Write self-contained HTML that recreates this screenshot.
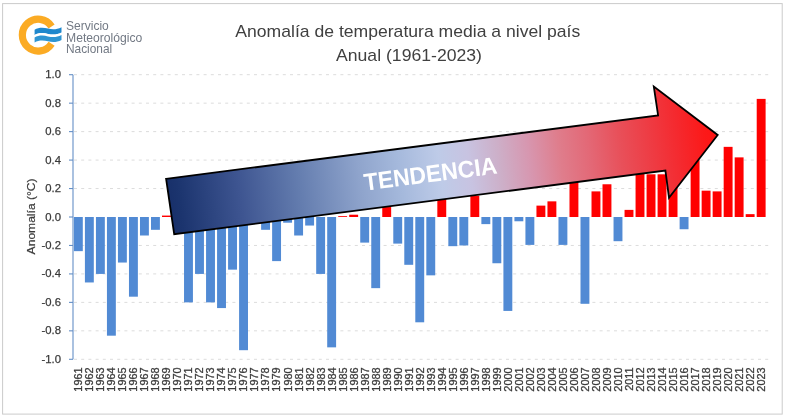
<!DOCTYPE html>
<html lang="es">
<head>
<meta charset="utf-8">
<title>Anomalía de temperatura media a nivel país</title>
<style>
html,body{margin:0;padding:0;background:#fff;}
body{width:785px;height:419px;overflow:hidden;font-family:'Liberation Sans', sans-serif;}
svg{display:block;filter:blur(0.45px);}
text{font-family:'Liberation Sans', sans-serif;}
</style>
</head>
<body>
<svg width="785" height="419" viewBox="0 0 785 419">
<defs>
<linearGradient id="ag" gradientUnits="userSpaceOnUse" x1="170" y1="206" x2="718" y2="135">
<stop offset="0.000" stop-color="#18306a"/>
<stop offset="0.018" stop-color="#1b346e"/>
<stop offset="0.128" stop-color="#3e5591"/>
<stop offset="0.237" stop-color="#647daf"/>
<stop offset="0.347" stop-color="#8fa4cc"/>
<stop offset="0.420" stop-color="#a5b9dc"/>
<stop offset="0.493" stop-color="#becbe8"/>
<stop offset="0.547" stop-color="#c8c3e1"/>
<stop offset="0.602" stop-color="#cdafc8"/>
<stop offset="0.657" stop-color="#d796af"/>
<stop offset="0.712" stop-color="#df7d8c"/>
<stop offset="0.766" stop-color="#e36876"/>
<stop offset="0.821" stop-color="#e8505a"/>
<stop offset="0.876" stop-color="#ee3c44"/>
<stop offset="0.931" stop-color="#f5282d"/>
<stop offset="0.976" stop-color="#fc1919"/>
<stop offset="1.000" stop-color="#ff1414"/>
</linearGradient>
</defs>
<rect x="0" y="0" width="785" height="419" fill="#ffffff"/>
<rect x="2.6" y="3.6" width="779.6" height="410.5" fill="#ffffff" stroke="#cbcbcb" stroke-width="1"/>

<g stroke="#dcdcdc" stroke-width="1" stroke-dasharray="3 4.2" fill="none">
<line x1="74.0" y1="359.30" x2="768.8" y2="359.30"/>
<line x1="74.0" y1="330.84" x2="768.8" y2="330.84"/>
<line x1="74.0" y1="302.38" x2="768.8" y2="302.38"/>
<line x1="74.0" y1="273.92" x2="768.8" y2="273.92"/>
<line x1="74.0" y1="245.46" x2="768.8" y2="245.46"/>
<line x1="74.0" y1="188.54" x2="768.8" y2="188.54"/>
<line x1="74.0" y1="160.08" x2="768.8" y2="160.08"/>
<line x1="74.0" y1="131.62" x2="768.8" y2="131.62"/>
<line x1="74.0" y1="103.16" x2="768.8" y2="103.16"/>
<line x1="74.0" y1="74.70" x2="768.8" y2="74.70"/>
</g>
<g>
<rect x="73.90" y="217.00" width="8.90" height="34.15" fill="#518ad4"/>
<rect x="84.91" y="217.00" width="8.90" height="65.46" fill="#518ad4"/>
<rect x="95.93" y="217.00" width="8.90" height="56.92" fill="#518ad4"/>
<rect x="106.94" y="217.00" width="8.90" height="118.68" fill="#518ad4"/>
<rect x="117.95" y="217.00" width="8.90" height="45.54" fill="#518ad4"/>
<rect x="128.97" y="217.00" width="8.90" height="79.69" fill="#518ad4"/>
<rect x="139.98" y="217.00" width="8.90" height="18.50" fill="#518ad4"/>
<rect x="150.99" y="217.00" width="8.90" height="12.81" fill="#518ad4"/>
<rect x="162.00" y="215.58" width="8.90" height="1.42" fill="#ff0000"/>
<rect x="173.02" y="209.88" width="8.90" height="7.12" fill="#ff0000"/>
<rect x="184.03" y="217.00" width="8.90" height="85.38" fill="#518ad4"/>
<rect x="195.04" y="217.00" width="8.90" height="56.92" fill="#518ad4"/>
<rect x="206.06" y="217.00" width="8.90" height="85.38" fill="#518ad4"/>
<rect x="217.07" y="217.00" width="8.90" height="91.07" fill="#518ad4"/>
<rect x="228.08" y="217.00" width="8.90" height="52.65" fill="#518ad4"/>
<rect x="239.09" y="217.00" width="8.90" height="133.19" fill="#518ad4"/>
<rect x="250.11" y="209.88" width="8.90" height="7.12" fill="#ff0000"/>
<rect x="261.12" y="217.00" width="8.90" height="12.81" fill="#518ad4"/>
<rect x="272.13" y="217.00" width="8.90" height="44.11" fill="#518ad4"/>
<rect x="283.15" y="217.00" width="8.90" height="5.69" fill="#518ad4"/>
<rect x="294.16" y="217.00" width="8.90" height="18.50" fill="#518ad4"/>
<rect x="305.17" y="217.00" width="8.90" height="8.54" fill="#518ad4"/>
<rect x="316.19" y="217.00" width="8.90" height="56.92" fill="#518ad4"/>
<rect x="327.20" y="217.00" width="8.90" height="130.35" fill="#518ad4"/>
<rect x="338.21" y="216.15" width="8.90" height="0.85" fill="#ff0000"/>
<rect x="349.23" y="214.72" width="8.90" height="2.28" fill="#ff0000"/>
<rect x="360.24" y="217.00" width="8.90" height="25.61" fill="#518ad4"/>
<rect x="371.25" y="217.00" width="8.90" height="71.15" fill="#518ad4"/>
<rect x="382.26" y="207.04" width="8.90" height="9.96" fill="#ff0000"/>
<rect x="393.28" y="217.00" width="8.90" height="26.61" fill="#518ad4"/>
<rect x="404.29" y="217.00" width="8.90" height="47.81" fill="#518ad4"/>
<rect x="415.30" y="217.00" width="8.90" height="105.30" fill="#518ad4"/>
<rect x="426.32" y="217.00" width="8.90" height="58.34" fill="#518ad4"/>
<rect x="437.33" y="198.50" width="8.90" height="18.50" fill="#ff0000"/>
<rect x="448.34" y="217.00" width="8.90" height="29.17" fill="#518ad4"/>
<rect x="459.36" y="217.00" width="8.90" height="28.46" fill="#518ad4"/>
<rect x="470.37" y="195.66" width="8.90" height="21.35" fill="#ff0000"/>
<rect x="481.38" y="217.00" width="8.90" height="7.12" fill="#518ad4"/>
<rect x="492.39" y="217.00" width="8.90" height="46.25" fill="#518ad4"/>
<rect x="503.41" y="217.00" width="8.90" height="93.92" fill="#518ad4"/>
<rect x="514.42" y="217.00" width="8.90" height="4.27" fill="#518ad4"/>
<rect x="525.43" y="217.00" width="8.90" height="27.89" fill="#518ad4"/>
<rect x="536.45" y="205.62" width="8.90" height="11.38" fill="#ff0000"/>
<rect x="547.46" y="201.35" width="8.90" height="15.65" fill="#ff0000"/>
<rect x="558.47" y="217.00" width="8.90" height="27.89" fill="#518ad4"/>
<rect x="569.49" y="181.43" width="8.90" height="35.58" fill="#ff0000"/>
<rect x="580.50" y="217.00" width="8.90" height="86.80" fill="#518ad4"/>
<rect x="591.51" y="191.39" width="8.90" height="25.61" fill="#ff0000"/>
<rect x="602.52" y="184.27" width="8.90" height="32.73" fill="#ff0000"/>
<rect x="613.54" y="217.00" width="8.90" height="24.19" fill="#518ad4"/>
<rect x="624.55" y="209.88" width="8.90" height="7.12" fill="#ff0000"/>
<rect x="635.56" y="172.89" width="8.90" height="44.11" fill="#ff0000"/>
<rect x="646.58" y="174.31" width="8.90" height="42.69" fill="#ff0000"/>
<rect x="657.59" y="174.31" width="8.90" height="42.69" fill="#ff0000"/>
<rect x="668.60" y="174.31" width="8.90" height="42.69" fill="#ff0000"/>
<rect x="679.62" y="217.00" width="8.90" height="12.24" fill="#518ad4"/>
<rect x="690.63" y="160.08" width="8.90" height="56.92" fill="#ff0000"/>
<rect x="701.64" y="190.67" width="8.90" height="26.33" fill="#ff0000"/>
<rect x="712.65" y="191.39" width="8.90" height="25.61" fill="#ff0000"/>
<rect x="723.67" y="146.85" width="8.90" height="70.15" fill="#ff0000"/>
<rect x="734.68" y="157.38" width="8.90" height="59.62" fill="#ff0000"/>
<rect x="745.69" y="214.15" width="8.90" height="2.85" fill="#ff0000"/>
<rect x="756.71" y="98.89" width="8.90" height="118.11" fill="#ff0000"/>
</g>
<g stroke="#648fc6" stroke-width="1.1" fill="none">
<line x1="73.0" y1="74.7" x2="73.0" y2="359.3"/>
<line x1="69.0" y1="359.30" x2="73.0" y2="359.30"/>
<line x1="69.0" y1="330.84" x2="73.0" y2="330.84"/>
<line x1="69.0" y1="302.38" x2="73.0" y2="302.38"/>
<line x1="69.0" y1="273.92" x2="73.0" y2="273.92"/>
<line x1="69.0" y1="245.46" x2="73.0" y2="245.46"/>
<line x1="69.0" y1="217.00" x2="73.0" y2="217.00"/>
<line x1="69.0" y1="188.54" x2="73.0" y2="188.54"/>
<line x1="69.0" y1="160.08" x2="73.0" y2="160.08"/>
<line x1="69.0" y1="131.62" x2="73.0" y2="131.62"/>
<line x1="69.0" y1="103.16" x2="73.0" y2="103.16"/>
<line x1="69.0" y1="74.70" x2="73.0" y2="74.70"/>
</g>
<g font-size="11.3" fill="#3a3a3a" stroke="#3a3a3a" stroke-width="0.25" text-anchor="end">
<text x="61" y="362.80">-1.0</text>
<text x="61" y="334.34">-0.8</text>
<text x="61" y="305.88">-0.6</text>
<text x="61" y="277.42">-0.4</text>
<text x="61" y="248.96">-0.2</text>
<text x="61" y="220.50">0.0</text>
<text x="61" y="192.04">0.2</text>
<text x="61" y="163.58">0.4</text>
<text x="61" y="135.12">0.6</text>
<text x="61" y="106.66">0.8</text>
<text x="61" y="78.20">1.0</text>
</g>
<text font-size="11.8" fill="#3a3a3a" stroke="#3a3a3a" stroke-width="0.2" text-anchor="middle" textLength="76" lengthAdjust="spacingAndGlyphs" transform="translate(35.2 216.4) rotate(-90)">Anomalía (°C)</text>
<g font-size="10.9" fill="#3c3c3c" stroke="#3c3c3c" stroke-width="0.3" text-anchor="end">
<text transform="translate(78.35 367.4) rotate(-90)" dy="3.9">1961</text>
<text transform="translate(89.36 367.4) rotate(-90)" dy="3.9">1962</text>
<text transform="translate(100.38 367.4) rotate(-90)" dy="3.9">1963</text>
<text transform="translate(111.39 367.4) rotate(-90)" dy="3.9">1964</text>
<text transform="translate(122.40 367.4) rotate(-90)" dy="3.9">1965</text>
<text transform="translate(133.41 367.4) rotate(-90)" dy="3.9">1966</text>
<text transform="translate(144.43 367.4) rotate(-90)" dy="3.9">1967</text>
<text transform="translate(155.44 367.4) rotate(-90)" dy="3.9">1968</text>
<text transform="translate(166.45 367.4) rotate(-90)" dy="3.9">1969</text>
<text transform="translate(177.47 367.4) rotate(-90)" dy="3.9">1970</text>
<text transform="translate(188.48 367.4) rotate(-90)" dy="3.9">1971</text>
<text transform="translate(199.49 367.4) rotate(-90)" dy="3.9">1972</text>
<text transform="translate(210.51 367.4) rotate(-90)" dy="3.9">1973</text>
<text transform="translate(221.52 367.4) rotate(-90)" dy="3.9">1974</text>
<text transform="translate(232.53 367.4) rotate(-90)" dy="3.9">1975</text>
<text transform="translate(243.54 367.4) rotate(-90)" dy="3.9">1976</text>
<text transform="translate(254.56 367.4) rotate(-90)" dy="3.9">1977</text>
<text transform="translate(265.57 367.4) rotate(-90)" dy="3.9">1978</text>
<text transform="translate(276.58 367.4) rotate(-90)" dy="3.9">1979</text>
<text transform="translate(287.60 367.4) rotate(-90)" dy="3.9">1980</text>
<text transform="translate(298.61 367.4) rotate(-90)" dy="3.9">1981</text>
<text transform="translate(309.62 367.4) rotate(-90)" dy="3.9">1982</text>
<text transform="translate(320.64 367.4) rotate(-90)" dy="3.9">1983</text>
<text transform="translate(331.65 367.4) rotate(-90)" dy="3.9">1984</text>
<text transform="translate(342.66 367.4) rotate(-90)" dy="3.9">1985</text>
<text transform="translate(353.68 367.4) rotate(-90)" dy="3.9">1986</text>
<text transform="translate(364.69 367.4) rotate(-90)" dy="3.9">1987</text>
<text transform="translate(375.70 367.4) rotate(-90)" dy="3.9">1988</text>
<text transform="translate(386.71 367.4) rotate(-90)" dy="3.9">1989</text>
<text transform="translate(397.73 367.4) rotate(-90)" dy="3.9">1990</text>
<text transform="translate(408.74 367.4) rotate(-90)" dy="3.9">1991</text>
<text transform="translate(419.75 367.4) rotate(-90)" dy="3.9">1992</text>
<text transform="translate(430.77 367.4) rotate(-90)" dy="3.9">1993</text>
<text transform="translate(441.78 367.4) rotate(-90)" dy="3.9">1994</text>
<text transform="translate(452.79 367.4) rotate(-90)" dy="3.9">1995</text>
<text transform="translate(463.81 367.4) rotate(-90)" dy="3.9">1996</text>
<text transform="translate(474.82 367.4) rotate(-90)" dy="3.9">1997</text>
<text transform="translate(485.83 367.4) rotate(-90)" dy="3.9">1998</text>
<text transform="translate(496.84 367.4) rotate(-90)" dy="3.9">1999</text>
<text transform="translate(507.86 367.4) rotate(-90)" dy="3.9">2000</text>
<text transform="translate(518.87 367.4) rotate(-90)" dy="3.9">2001</text>
<text transform="translate(529.88 367.4) rotate(-90)" dy="3.9">2002</text>
<text transform="translate(540.90 367.4) rotate(-90)" dy="3.9">2003</text>
<text transform="translate(551.91 367.4) rotate(-90)" dy="3.9">2004</text>
<text transform="translate(562.92 367.4) rotate(-90)" dy="3.9">2005</text>
<text transform="translate(573.94 367.4) rotate(-90)" dy="3.9">2006</text>
<text transform="translate(584.95 367.4) rotate(-90)" dy="3.9">2007</text>
<text transform="translate(595.96 367.4) rotate(-90)" dy="3.9">2008</text>
<text transform="translate(606.97 367.4) rotate(-90)" dy="3.9">2009</text>
<text transform="translate(617.99 367.4) rotate(-90)" dy="3.9">2010</text>
<text transform="translate(629.00 367.4) rotate(-90)" dy="3.9">2011</text>
<text transform="translate(640.01 367.4) rotate(-90)" dy="3.9">2012</text>
<text transform="translate(651.03 367.4) rotate(-90)" dy="3.9">2013</text>
<text transform="translate(662.04 367.4) rotate(-90)" dy="3.9">2014</text>
<text transform="translate(673.05 367.4) rotate(-90)" dy="3.9">2015</text>
<text transform="translate(684.07 367.4) rotate(-90)" dy="3.9">2016</text>
<text transform="translate(695.08 367.4) rotate(-90)" dy="3.9">2017</text>
<text transform="translate(706.09 367.4) rotate(-90)" dy="3.9">2018</text>
<text transform="translate(717.10 367.4) rotate(-90)" dy="3.9">2019</text>
<text transform="translate(728.12 367.4) rotate(-90)" dy="3.9">2020</text>
<text transform="translate(739.13 367.4) rotate(-90)" dy="3.9">2021</text>
<text transform="translate(750.14 367.4) rotate(-90)" dy="3.9">2022</text>
<text transform="translate(761.16 367.4) rotate(-90)" dy="3.9">2023</text>
</g>
<g font-size="16.4" fill="#404040" text-anchor="middle">
<text x="407.8" y="37.1" textLength="345" lengthAdjust="spacingAndGlyphs">Anomalía de temperatura media a nivel país</text>
<text x="409" y="61" textLength="146" lengthAdjust="spacingAndGlyphs">Anual (1961-2023)</text>
</g>
<g>
<path d="M 51.6 26.5 A 15.9 15.9 0 1 0 51.6 43.7" fill="none" stroke="#fbab24" stroke-width="7.2"/>
<path d="M 34.6 29.8 C 38.5 27.3 43.5 27.4 48.0 28.6 C 52.5 29.8 57.0 29.6 61.5 27.3 L 61.5 32.6 C 57.0 34.9 52.5 35.1 48.0 33.9 C 43.5 32.7 38.5 32.6 34.6 35.1 Z" fill="#1f88cd"/>
<path d="M 34.6 35.1 C 38.5 32.6 43.5 32.7 48.0 33.9 C 52.5 35.1 57.0 34.9 61.5 32.6 L 61.5 35.1 C 57.0 37.4 52.5 37.6 48.0 36.4 C 43.5 35.2 38.5 35.1 34.6 37.6 Z" fill="#ffffff"/>
<path d="M 34.6 37.6 C 38.5 35.1 43.5 35.2 48.0 36.4 C 52.5 37.6 57.0 37.4 61.5 35.1 L 61.5 40.0 C 57.0 42.3 52.5 42.5 48.0 41.3 C 43.5 40.1 38.5 40.0 34.6 42.5 Z" fill="#2f95d2"/>
<g font-size="11.9" fill="#727984">
<text x="66" y="30.1" textLength="42.8" lengthAdjust="spacingAndGlyphs">Servicio</text>
<text x="66" y="41.6" textLength="76.4" lengthAdjust="spacingAndGlyphs">Meteorológico</text>
<text x="66" y="53.2" textLength="46.2" lengthAdjust="spacingAndGlyphs">Nacional</text>
</g>
</g>
<polygon points="166.1,178.8 658.1,115.4 653.8,86.6 717.7,135 669,197.7 665.4,170.6 174.2,234.2" fill="url(#ag)" stroke="#000000" stroke-width="1.8" stroke-linejoin="miter"/>
<text font-size="24" font-weight="bold" fill="#ffffff" text-anchor="middle" transform="translate(431.5 182) rotate(-7.4)" textLength="134" lengthAdjust="spacingAndGlyphs">TENDENCIA</text>
</svg>
</body>
</html>
